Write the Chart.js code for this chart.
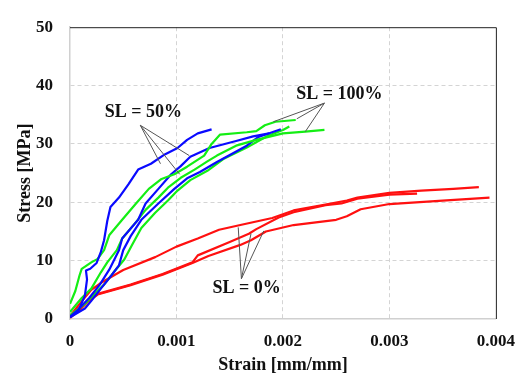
<!DOCTYPE html>
<html>
<head>
<meta charset="utf-8">
<script src="https://cdn.jsdelivr.net/npm/chart.js@4.4.1/dist/chart.umd.min.js"></script>
<style>
  html, body { margin: 0; padding: 0; background: #fff; }
  #wrap { width: 527px; height: 376px; position: relative; }
</style>
</head>
<body>
<div id="wrap"><canvas id="chart"></canvas></div>
<script>
// strain [mm/mm], stress [MPa]
const sl0A = [[0, 0.5], [0.0001, 2.8], [0.0002, 5.0], [0.0003, 6.3], [0.0005, 8.4], [0.0008, 10.6], [0.001, 12.4], [0.0012, 13.8], [0.0014, 15.3], [0.0016, 16.1], [0.0019, 17.3], [0.0021, 18.6], [0.0024, 19.6], [0.0026, 20.3], [0.0027, 20.8], [0.003, 21.6], [0.0033, 22.0], [0.0036, 22.3], [0.00384, 22.6]]
const sl0B = [[0, 0.3], [0.0001, 1.9], [0.00017, 3.1], [0.00026, 4.3], [0.00057, 5.9], [0.00087, 7.7], [0.00115, 9.7], [0.0012, 10.9], [0.0015, 13.2], [0.00168, 14.6], [0.00175, 15.4], [0.00196, 17.4], [0.0021, 18.3], [0.0024, 19.5], [0.00255, 19.8], [0.0027, 20.6], [0.003, 21.3], [0.00326, 21.5]]
const sl0C = [[0, 0.2], [0.0001, 1.7], [0.00017, 3.0], [0.00026, 4.2], [0.00057, 5.8], [0.00087, 7.6], [0.00115, 9.6], [0.0013, 10.8], [0.0016, 12.7], [0.0017, 13.5], [0.00184, 15.0], [0.0021, 16.1], [0.0025, 17.0], [0.0026, 17.6], [0.00273, 18.8], [0.003, 19.7], [0.0035, 20.3], [0.00394, 20.8]]

const sl50A = [[0, 0.3], [0.00008, 1.5], [0.00014, 4.0], [0.00016, 6.8], [0.00015, 8.3], [0.00019, 8.6], [0.00025, 9.6], [0.00029, 11.5], [0.00032, 13.5], [0.00035, 16.8], [0.00038, 19.2], [0.00046, 20.8], [0.00055, 23.1], [0.00064, 25.6], [0.00076, 26.6], [0.00089, 28.2], [0.00101, 29.3], [0.0011, 30.7], [0.0012, 31.8], [0.00133, 32.5]]
const sl50B = [[0, 0.4], [0.00007, 1.5], [0.00018, 3.6], [0.00028, 5.9], [0.00037, 8.5], [0.00046, 11.8], [0.00049, 13.8], [0.00064, 17.0], [0.00071, 19.8], [0.00083, 22.3], [0.00095, 24.8], [0.00104, 26.2], [0.00113, 27.8], [0.00131, 29.3], [0.00156, 30.5], [0.00172, 31.3], [0.00187, 31.8]]
const sl50C = [[0, 0.3], [0.00014, 1.8], [0.0002, 3.1], [0.00029, 5.2], [0.00039, 7.5], [0.00046, 9.2], [0.0005, 11.8], [0.00057, 14.2], [0.00067, 17.0], [0.00083, 19.8], [0.00098, 22.3], [0.0011, 24.1], [0.00122, 25.2], [0.00138, 26.9], [0.00154, 28.5], [0.00166, 29.7], [0.00177, 31.2], [0.00198, 32.5]]

const sl100A = [[0, 2.6], [0.00005, 4.8], [0.00009, 7.5], [0.00011, 8.6], [0.0002, 9.7], [0.00026, 10.3], [0.00032, 11.8], [0.00037, 14.4], [0.00049, 17.0], [0.00062, 19.8], [0.00074, 22.3], [0.00086, 24.0], [0.00098, 24.8], [0.0011, 26.1], [0.00126, 28.0], [0.00133, 30.0], [0.00141, 31.6], [0.00166, 32.0], [0.00175, 32.2], [0.00183, 33.2], [0.00193, 33.8], [0.00212, 34.1]]
const sl100B = [[0, 1.2], [0.00011, 3.6], [0.0002, 5.2], [0.00029, 8.0], [0.00035, 9.7], [0.00044, 11.8], [0.00049, 13.8], [0.00062, 16.6], [0.00071, 18.7], [0.00083, 20.8], [0.00092, 22.5], [0.00104, 24.2], [0.00117, 25.6], [0.00129, 27.0], [0.00138, 28.0], [0.00156, 29.7], [0.00175, 30.7], [0.002, 31.8], [0.00221, 32.1], [0.00239, 32.4]]
const sl100C = [[0, 0.6], [0.00014, 2.6], [0.00023, 4.3], [0.00032, 5.9], [0.00041, 8.0], [0.00051, 10.2], [0.00058, 12.6], [0.00067, 15.6], [0.0008, 18.2], [0.00092, 20.3], [0.00101, 22.0], [0.00113, 23.8], [0.00129, 25.4], [0.00144, 27.4], [0.00166, 29.4], [0.00185, 31.3], [0.002, 32.4], [0.00206, 33.0]]

const xTickLabels = ['0', '0.001', '0.002', '0.003', '0.004']
const yTickLabels = ['0', '10', '20', '30', '40', '50']

// callouts: label, text anchor, leader origin, leader targets (data units)
const calloutLabels = ['SL = 50%', 'SL = 100%', 'SL = 0%']
const calloutText = [[0.00069, 35.4], [0.00253, 38.5], [0.00166, 5.2]]
const calloutOrigin = [[0.00066, 33.2], [0.00239, 37.0], [0.00161, 6.9]]
const calloutTargets = [
  [[0.00085, 26.6], [0.00103, 24.8], [0.00112, 28.0]],
  [[0.00191, 33.8], [0.00213, 34.3], [0.00221, 32.1]],
  [[0.00158, 15.7], [0.0017, 14.6], [0.00182, 15.1]],
]

const serif = '"Liberation Serif", "Times New Roman", serif'
const BLUE = '#0a0aff'
const GREEN = '#14ee14'
const RED = '#ff1010'

const toPoints = (arr) => arr.map(([x, y]) => ({ x, y }))
const curve = (arr, color) => ({
  data: toPoints(arr),
  borderColor: color,
  backgroundColor: color,
  borderWidth: 2.2,
  pointRadius: 0,
  showLine: true,
  tension: 0,
  borderJoinStyle: 'round',
})

const calloutPlugin = {
  id: 'callouts',
  afterDatasetsDraw(chart) {
    const { ctx, chartArea, scales } = chart
    const px = (p) => [scales.x.getPixelForValue(p[0]), scales.y.getPixelForValue(p[1])]
    ctx.save()
    // dark top and right frame
    ctx.strokeStyle = '#222'
    ctx.lineWidth = 1
    ctx.beginPath()
    ctx.moveTo(chartArea.left, chartArea.top + 0.5)
    ctx.lineTo(chartArea.right + 0.5, chartArea.top + 0.5)
    ctx.lineTo(chartArea.right + 0.5, chartArea.bottom)
    ctx.stroke()

    ctx.strokeStyle = '#555'
    ctx.lineWidth = 1
    calloutLabels.forEach((label, i) => {
      const [ox, oy] = px(calloutOrigin[i])
      calloutTargets[i].forEach((t) => {
        const [tx, ty] = px(t)
        ctx.beginPath()
        ctx.moveTo(ox, oy)
        ctx.lineTo(tx, ty)
        ctx.stroke()
      })
      const [lx, ly] = px(calloutText[i])
      ctx.fillStyle = '#111'
      ctx.font = 'bold 18px ' + serif
      ctx.textAlign = 'center'
      ctx.textBaseline = 'middle'
      ctx.fillText(label, lx, ly)
    })
    ctx.restore()
  },
}

const ctx = document.getElementById('chart').getContext('2d')
new Chart(ctx, {
  type: 'scatter',
  data: {
    datasets: [
      curve(sl50A, BLUE),
      curve(sl100A, GREEN),
      curve(sl50B, BLUE),
      curve(sl100B, GREEN),
      curve(sl50C, BLUE),
      curve(sl100C, GREEN),
      curve(sl0A, RED),
      curve(sl0B, RED),
      curve(sl0C, RED),
    ],
  },
  options: {
    responsive: true,
    maintainAspectRatio: false,
    animation: false,
    layout: { padding: { left: 0, right: 22, top: 14, bottom: 0 } },
    plugins: {
      legend: { display: false },
      tooltip: { enabled: false },
    },
    scales: {
      x: {
        type: 'linear',
        min: 0,
        max: 0.004,
        afterFit(scale) { scale.height = 57 },
        ticks: {
          stepSize: 0.001,
          padding: 12,
          color: '#111',
          font: { family: serif, size: 17, weight: 'bold' },
          callback: (value, index) => xTickLabels[index],
        },
        grid: {
          drawTicks: false,
          color: (c) => (c.tick && (c.tick.value === 0 || c.index === 4) ? 'rgba(0,0,0,0)' : '#d4d4d4'),
          lineWidth: 1,
        },
        border: { display: true, color: '#d0d0d0', width: 1.5, dash: [4, 3] },
        title: {
          display: true,
          text: 'Strain [mm/mm]',
          color: '#111',
          font: { family: serif, size: 18, weight: 'bold' },
          padding: { top: 0, bottom: 0 },
        },
      },
      y: {
        min: 0,
        max: 50,
        afterFit(scale) { scale.width = 70 },
        ticks: {
          stepSize: 10,
          padding: 17,
          color: '#111',
          font: { family: serif, size: 17, weight: 'bold' },
          callback: (value, index) => yTickLabels[index],
        },
        grid: {
          drawTicks: false,
          color: (c) => (c.tick && (c.tick.value === 0 || c.tick.value === 50) ? 'rgba(0,0,0,0)' : '#d4d4d4'),
          lineWidth: 1,
        },
        border: { display: true, color: '#d0d0d0', width: 1.5, dash: [4, 3] },
        title: {
          display: true,
          text: 'Stress [MPa]',
          color: '#111',
          font: { family: serif, size: 18, weight: 'bold' },
          padding: { top: 15, bottom: 0 },
        },
      },
    },
  },
  plugins: [calloutPlugin],
})
</script>
</body>
</html>
